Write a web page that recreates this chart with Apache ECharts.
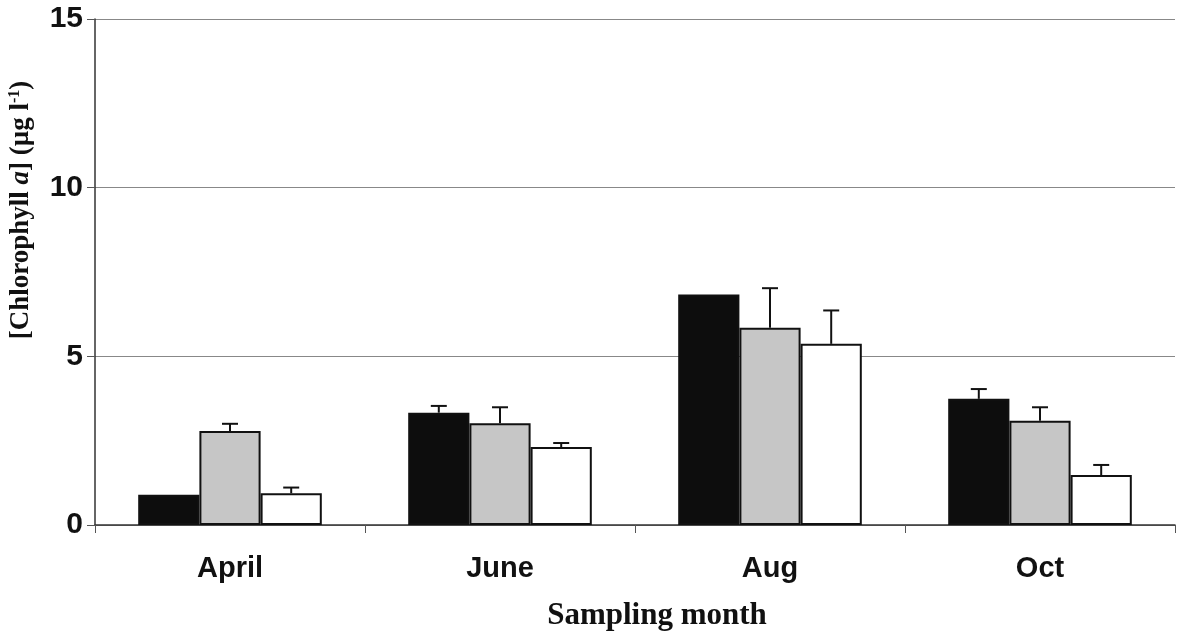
<!DOCTYPE html>
<html><head><meta charset="utf-8">
<script src="https://cdn.jsdelivr.net/npm/echarts@6/dist/echarts.min.js"></script>
<style>html,body{margin:0;padding:0;background:#fff}#c{width:1177px;height:639px}</style>
</head><body><div id="c"></div>
<script>
const categories = ['April', 'June', 'Aug', 'Oct'];
const seriesA = [0.90, 3.33, 6.83, 3.74];   // black bars
const seriesB = [2.79, 3.02, 5.85, 3.09];   // grey bars
const seriesC = [0.94, 2.31, 5.37, 1.48];   // white bars
const errTopA = [null, 3.53, null, 4.03];
const errTopB = [3.00, 3.49, 7.02, 3.49];
const errTopC = [1.11, 2.43, 6.36, 1.78];
const yTicks = [0, 5, 10, 15];

const chart = echarts.init(document.getElementById('c'), null, {renderer: 'canvas'});
const GAP = 0.32;

function errSeries(vals, tops, offset) {
  const data = [];
  vals.forEach((v, i) => { if (tops[i] != null) data.push([i, v, tops[i]]); });
  return {
    type: 'custom', z: 5,
    data: data,
    renderItem: function (params, api) {
      const cat = api.value(0);
      const bw = api.size([1, 0])[0] * (1 - GAP) / 3;
      const p0 = api.coord([cat, api.value(1)]);
      const p1 = api.coord([cat, api.value(2)]);
      const x = p0[0] + offset * bw;
      const st = {stroke: '#111', lineWidth: 2};
      return {type: 'group', children: [
        {type: 'line', shape: {x1: x, y1: p0[1], x2: x, y2: p1[1]}, style: st},
        {type: 'line', shape: {x1: x - 8, y1: p1[1], x2: x + 8, y2: p1[1]}, style: st}
      ]};
    }
  };
}

const barStyle = (c) => ({color: c, borderColor: '#111', borderWidth: 2});

chart.setOption({
  animation: false,
  backgroundColor: '#fff',
  grid: {left: 95, right: 2, top: 19, bottom: 114, containLabel: false},
  xAxis: {
    type: 'category', data: categories,
    axisLine: {lineStyle: {color: '#333', width: 1.5}},
    axisTick: {show: true, length: 8, lineStyle: {color: '#555'}},
    axisLabel: {fontFamily: 'Liberation Sans, Arial, sans-serif', fontWeight: 'bold', fontSize: 29, color: '#111', margin: 29}
  },
  yAxis: {
    type: 'value', min: 0, max: 15, interval: 5,
    axisLine: {show: true, lineStyle: {color: '#333', width: 1.5}},
    axisTick: {show: true, length: 8, lineStyle: {color: '#555'}},
    splitLine: {show: true, lineStyle: {color: '#888', width: 1}},
    axisLabel: {fontFamily: 'Liberation Sans, Arial, sans-serif', fontWeight: 'bold', fontSize: 30, color: '#111', margin: 12,
      formatter: (v) => yTicks.includes(v) ? String(v) : ''}
  },
  graphic: [
    {type: 'text', x: 21, y: 210, rotation: Math.PI / 2, style: {
      text: '[Chlorophyll {i|a}] (µg l{s|-1})',
      font: 'bold 27px "Liberation Serif", "Times New Roman", serif',
      fill: '#111', align: 'center', verticalAlign: 'middle',
      rich: {
        i: {fontStyle: 'italic', fontWeight: 'bold', fontSize: 27, fontFamily: 'Liberation Serif', fill: '#111'},
        s: {fontSize: 16, fontWeight: 'bold', fontFamily: 'Liberation Serif', fill: '#111', padding: [0, 0, 13, 0]}
      }
    }},
    {type: 'text', x: 657, y: 616, style: {
      text: 'Sampling month',
      font: 'bold 31px "Liberation Serif", "Times New Roman", serif',
      fill: '#111', align: 'center', verticalAlign: 'middle'
    }}
  ],
  series: [
    {type: 'bar', data: seriesA, barGap: '0%', barCategoryGap: '32%', itemStyle: barStyle('#0d0d0d')},
    {type: 'bar', data: seriesB, barGap: '0%', barCategoryGap: '32%', itemStyle: barStyle('#c6c6c6')},
    {type: 'bar', data: seriesC, barGap: '0%', barCategoryGap: '32%', itemStyle: barStyle('#ffffff')},
    errSeries(seriesA, errTopA, -1),
    errSeries(seriesB, errTopB, 0),
    errSeries(seriesC, errTopC, 1)
  ]
});
</script></body></html>
